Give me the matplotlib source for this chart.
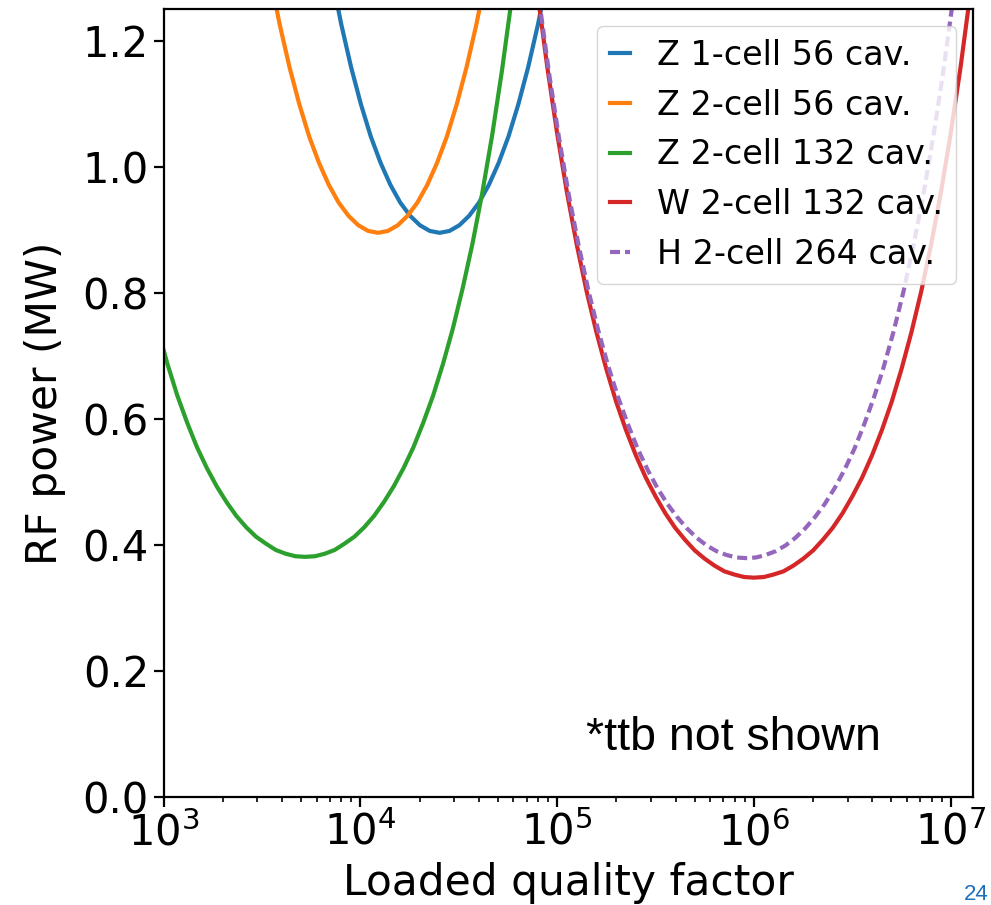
import matplotlib
matplotlib.use("Agg")
import matplotlib.pyplot as plt
import numpy as np

# log10 of loaded Q and RF power (MW)
z1_56_logq = [3.853, 3.903, 3.953, 4.003, 4.053, 4.103, 4.153, 4.203, 4.253, 4.303, 4.353, 4.403,
              4.453, 4.503, 4.553, 4.603, 4.653, 4.703, 4.753, 4.803, 4.853, 4.903, 4.953]
z1_56_p = [1.304, 1.226, 1.158, 1.099, 1.048, 1.006, 0.971, 0.943, 0.922, 0.907, 0.898, 0.895,
           0.898, 0.907, 0.922, 0.943, 0.971, 1.006, 1.048, 1.099, 1.158, 1.226, 1.304]

z2_56_logq = [3.54, 3.59, 3.64, 3.69, 3.74, 3.79, 3.84, 3.89, 3.94, 3.99, 4.04, 4.09,
              4.14, 4.19, 4.24, 4.29, 4.34, 4.39, 4.44, 4.49, 4.54, 4.59, 4.64]
z2_56_p = [1.304, 1.226, 1.158, 1.099, 1.048, 1.006, 0.971, 0.943, 0.922, 0.907, 0.898, 0.895,
           0.898, 0.907, 0.922, 0.943, 0.971, 1.006, 1.048, 1.099, 1.158, 1.226, 1.304]

z2_132_logq = [2.97, 3.02, 3.07, 3.12, 3.17, 3.22, 3.27, 3.32, 3.37, 3.42, 3.47, 3.52, 3.57,
               3.62, 3.67, 3.72, 3.77, 3.82, 3.87, 3.92, 3.97, 4.02, 4.07, 4.12, 4.17, 4.22,
               4.27, 4.32, 4.37, 4.42, 4.47, 4.52, 4.57, 4.62, 4.67, 4.72, 4.77, 4.82]
z2_132_p = [0.743, 0.687, 0.637, 0.594, 0.555, 0.522, 0.493, 0.468, 0.446, 0.428, 0.413, 0.402,
            0.392, 0.386, 0.382, 0.381, 0.382, 0.386, 0.392, 0.402, 0.413, 0.428, 0.446, 0.468,
            0.493, 0.522, 0.555, 0.594, 0.637, 0.687, 0.743, 0.807, 0.878, 0.959, 1.050, 1.153,
            1.268, 1.397]

w2_132_logq = [4.90, 4.95, 5.00, 5.05, 5.10, 5.15, 5.20, 5.25, 5.30, 5.35, 5.40, 5.45, 5.50,
               5.55, 5.60, 5.65, 5.70, 5.75, 5.80, 5.85, 5.90, 5.95, 6.00, 6.05, 6.10, 6.15,
               6.20, 6.25, 6.30, 6.35, 6.40, 6.45, 6.50, 6.55, 6.60, 6.65, 6.70, 6.75, 6.80,
               6.85, 6.90, 6.95, 7.00, 7.05, 7.10]
w2_132_p = [1.276, 1.158, 1.053, 0.959, 0.876, 0.802, 0.737, 0.679, 0.627, 0.582, 0.542, 0.507,
            0.477, 0.450, 0.427, 0.408, 0.391, 0.378, 0.367, 0.358, 0.353, 0.349, 0.348, 0.349,
            0.353, 0.358, 0.367, 0.378, 0.391, 0.408, 0.427, 0.450, 0.477, 0.507, 0.542, 0.582,
            0.627, 0.679, 0.737, 0.802, 0.876, 0.959, 1.053, 1.158, 1.276]

h2_264_logq = [4.86, 4.91, 4.96, 5.01, 5.06, 5.11, 5.16, 5.21, 5.26, 5.31, 5.36, 5.41, 5.46,
               5.51, 5.56, 5.61, 5.66, 5.71, 5.76, 5.81, 5.86, 5.91, 5.96, 6.01, 6.06, 6.11,
               6.16, 6.21, 6.26, 6.31, 6.36, 6.41, 6.46, 6.51, 6.56, 6.61, 6.66, 6.71, 6.76,
               6.81, 6.86, 6.91, 6.96, 7.01, 7.06]
h2_264_p = [1.390, 1.261, 1.146, 1.045, 0.954, 0.874, 0.802, 0.739, 0.683, 0.634, 0.591, 0.552,
            0.519, 0.490, 0.465, 0.444, 0.426, 0.411, 0.399, 0.390, 0.384, 0.380, 0.379, 0.380,
            0.384, 0.390, 0.399, 0.411, 0.426, 0.444, 0.465, 0.490, 0.519, 0.552, 0.591, 0.634,
            0.683, 0.739, 0.802, 0.874, 0.954, 1.045, 1.146, 1.261, 1.390]

labels = ["Z 1-cell 56 cav.", "Z 2-cell 56 cav.", "Z 2-cell 132 cav.",
          "W 2-cell 132 cav.", "H 2-cell 264 cav."]

plt.rcParams["font.family"] = "DejaVu Sans"

fig = plt.figure(figsize=(9.91, 9.05), dpi=100)
ax = fig.add_axes([0.165, 0.1193, 0.817, 0.8707])

series = [(z1_56_logq, z1_56_p, "-"), (z2_56_logq, z2_56_p, "-"),
          (z2_132_logq, z2_132_p, "-"), (w2_132_logq, w2_132_p, "-"),
          (h2_264_logq, h2_264_p, "--")]
colors = ["#1f77b4", "#ff7f0e", "#2ca02c", "#d62728", "#9467bd"]

for (lq, p, ls), c, lab in zip(series, colors, labels):
    line, = ax.plot(10 ** np.array(lq), p, ls, color=c, lw=3, label=lab)
    if ls == "--":
        line.set_dashes((2.4, 1.2))

ax.set_xscale("log")
ax.set_xlim(1e3, 1.3e7)
ax.set_ylim(0, 1.25)
ax.set_yticks([0.0, 0.2, 0.4, 0.6, 0.8, 1.0, 1.2])

ax.set_xlabel("Loaded quality factor", fontsize=30.5, labelpad=6)
ax.set_ylabel("RF power (MW)", fontsize=30.5, labelpad=12)
ax.tick_params(which="major", labelsize=30, length=7, width=1.6)
ax.tick_params(which="minor", length=3.5, width=1.2)
for s in ax.spines.values():
    s.set_linewidth(1.6)

ax.legend(loc="upper right", fontsize=24, handlelength=0.6, handletextpad=0.8,
          labelspacing=0.5, borderpad=0.4, framealpha=0.8)

ax.text(0.522, 0.0596, "*ttb not shown", transform=ax.transAxes, fontsize=33.5,
        family="Liberation Sans", ha="left", va="baseline")

fig.text(0.998, 0.006, "24", fontsize=16, color="#1f6fbf", family="Liberation Sans",
         ha="right", va="baseline")

fig.savefig("out.png", dpi=100)
